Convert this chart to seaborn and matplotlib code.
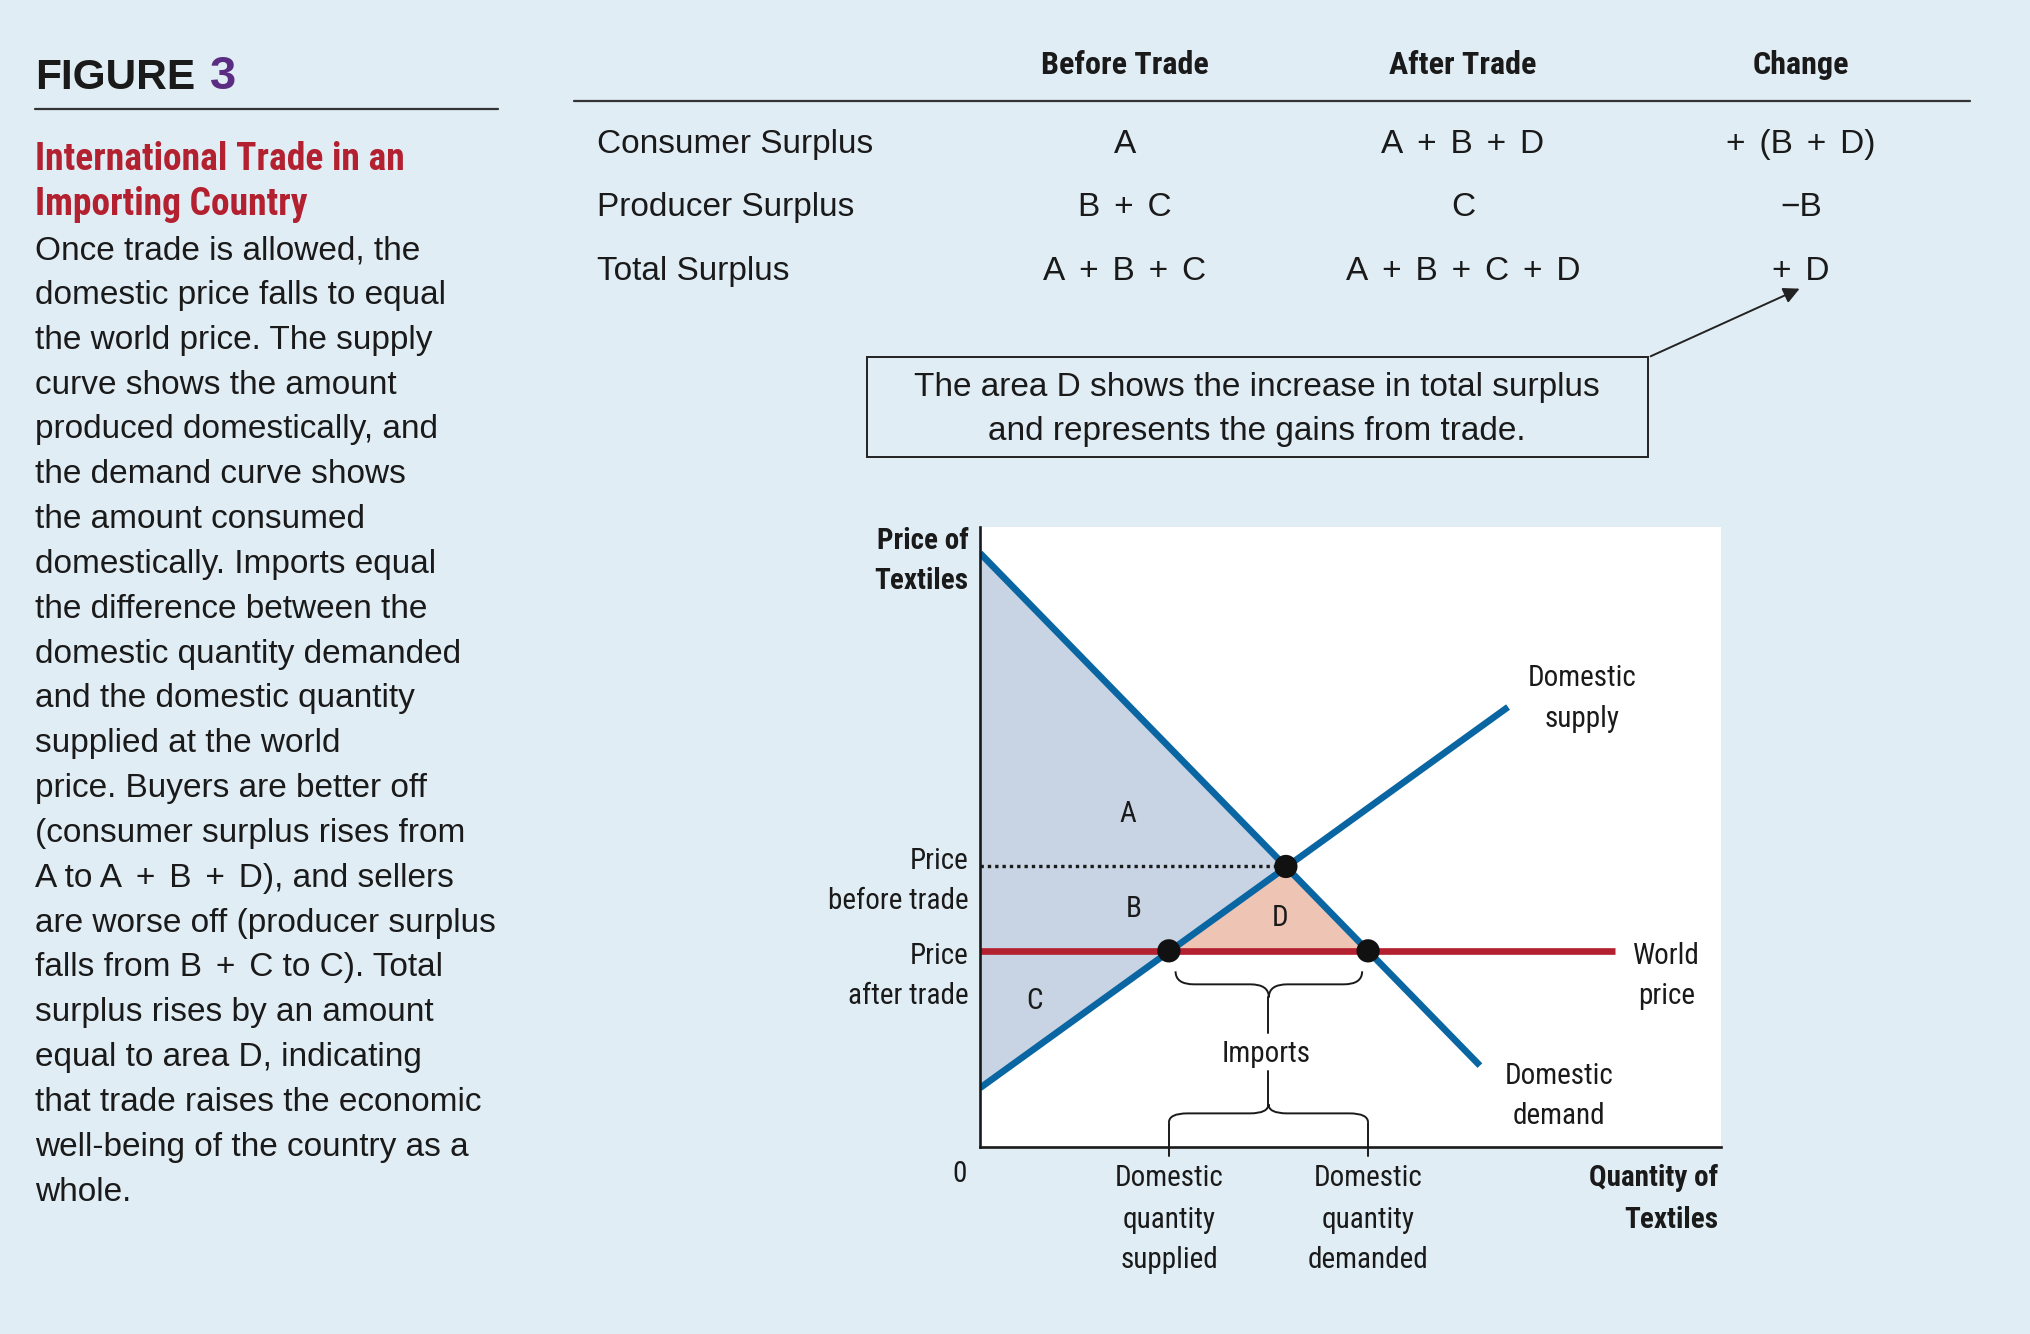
import matplotlib.pyplot as plt
import seaborn as sns
from matplotlib import font_manager
from matplotlib.path import Path
from matplotlib.patches import PathPatch, Rectangle, FancyArrowPatch
from matplotlib.lines import Line2D

# -----------------------------
# Data
# -----------------------------
demand_q = [0.0, 6.75]
demand_p = [9.58, 1.32]
supply_q = [0.0, 7.13]
supply_p = [0.96, 7.10]
world_q = [0.0, 8.57]
world_price = 3.17
price_before = 4.53
q_before = 4.13
q_supplied = 2.55
q_demanded = 5.24

table_cols = ["Before Trade", "After Trade", "Change"]
table_rows = ["Consumer Surplus", "Producer Surplus", "Total Surplus"]
before_vals = ["A", "B + C", "A + B + C"]
after_vals = ["A + B + D", "C", "A + B + C + D"]
change_vals = ["+ (B + D)", "\u2212B", "+ D"]

body_lines = [
    "Once trade is allowed, the",
    "domestic price falls to equal",
    "the world price. The supply",
    "curve shows the amount",
    "produced domestically, and",
    "the demand curve shows",
    "the amount consumed",
    "domestically. Imports equal",
    "the difference between the",
    "domestic quantity demanded",
    "and the domestic quantity",
    "supplied at the world",
    "price. Buyers are better off",
    "(consumer surplus rises from",
    "A to A + B + D), and sellers",
    "are worse off (producer surplus",
    "falls from B + C to C). Total",
    "surplus rises by an amount",
    "equal to area D, indicating",
    "that trade raises the economic",
    "well-being of the country as a",
    "whole.",
]

# -----------------------------
# Style
# -----------------------------
BG = "#E1EDF4"
BLUE = "#0A66A2"
RED = "#B3202F"
SHADE = "#C8D4E3"
SALMON = "#EEC5B5"
INK = "#1A1A1A"

sns.set_theme(style="white")
names = {f.name for f in font_manager.fontManager.ttflist}
REG = "Liberation Sans"
NARROW = next((n for n in ["Liberation Sans Narrow", "Roboto Condensed",
                           "Open Sans Condensed"] if n in names), REG)
plt.rcParams["font.family"] = [REG, "DejaVu Sans"]
plt.rcParams["text.color"] = INK

# the printed plus signs sit between slightly wider spaces
SP = "\u2004\u200a"


def wide_plus(s):
    return s.replace(" + ", f"{SP}+{SP}").replace("+ ", f"+{SP}")


fig = plt.figure(figsize=(20.3, 13.34), dpi=100, facecolor=BG)

W, H = 1568, 1030


def ftext(x, y, s, **kw):
    kw.setdefault("va", "baseline")
    return fig.text(x / W, 1 - y / H, s, **kw)


def flines(x, ys, lines, **kw):
    for y, s in zip(ys, lines):
        ftext(x, y, s, **kw)


# -----------------------------
# Left panel
# -----------------------------
ftext(27, 69, "FIGURE", fontsize=30.5, fontweight="bold", color=INK)
ftext(162, 69, "3", fontsize=34, fontweight="bold", color="#5A2D82")
fig.add_artist(Line2D([27 / W, 385 / W], [1 - 84.5 / H] * 2, color="#333333", lw=1.6))

ftext(27, 131, "International Trade in an", family=NARROW, fontsize=27,
      fontweight="bold", color=RED)
ftext(27, 166, "Importing Country", family=NARROW, fontsize=27,
      fontweight="bold", color=RED)

for i, line in enumerate(body_lines):
    ftext(27, 200 + 34.62 * i, wide_plus(line), fontsize=24)

# -----------------------------
# Table
# -----------------------------
col_x = [869, 1130, 1391]
for x, c in zip(col_x, table_cols):
    ftext(x, 57, c, family=NARROW, fontsize=23, fontweight="bold", ha="center")
fig.add_artist(Line2D([443 / W, 1522 / W], [1 - 78 / H] * 2, color="#333333", lw=1.6))

row_y = [118, 167, 216]
for y, label, b, a, c in zip(row_y, table_rows, before_vals, after_vals, change_vals):
    ftext(461, y, label, fontsize=24)
    ftext(col_x[0], y, wide_plus(b), fontsize=24, ha="center")
    ftext(col_x[1], y, wide_plus(a), fontsize=24, ha="center")
    ftext(col_x[2], y, wide_plus(c), fontsize=24, ha="center")

# annotation box + arrow
fig.add_artist(Rectangle((670 / W, 1 - 353 / H), (1273 - 670) / W, (353 - 276) / H,
                         transform=fig.transFigure, fill=False, ec="#222222", lw=1.4))
ftext(971, 306, "The area D shows the increase in total surplus", fontsize=24, ha="center")
ftext(971, 340, "and represents the gains from trade.", fontsize=24, ha="center")
fig.add_artist(FancyArrowPatch((1273 / W, 1 - 276 / H), (1392 / W, 1 - 222 / H),
                               transform=fig.transFigure, arrowstyle="-|>",
                               mutation_scale=24, lw=1.4, color="#222222"))

# -----------------------------
# Supply / demand chart
# -----------------------------
ax = fig.add_axes([757 / W, 1 - 886 / H, (1329 - 757) / W, (886 - 407) / H])
ax.set_facecolor("white")
ax.set_xlim(0, 10)
ax.set_ylim(0, 10)

ax.fill([0, q_before, 0], [demand_p[0], price_before, supply_p[0]], color=SHADE, lw=0)
ax.fill([q_supplied, q_before, q_demanded], [world_price, price_before, world_price],
        color=SALMON, lw=0)

ax.plot([0, q_before], [price_before, price_before], color=INK, lw=2.4,
        ls=(0, (1, 1.2)))

sns.lineplot(x=world_q, y=[world_price] * len(world_q), ax=ax, color=RED,
             linewidth=4.8, solid_capstyle="butt")
sns.lineplot(x=supply_q, y=supply_p, ax=ax, color=BLUE, linewidth=4.8,
             solid_capstyle="butt")
sns.lineplot(x=demand_q, y=demand_p, ax=ax, color=BLUE, linewidth=4.8,
             solid_capstyle="butt")
sns.scatterplot(x=[q_supplied, q_before, q_demanded],
                y=[world_price, price_before, world_price],
                ax=ax, color="#111111", s=280, edgecolor="none", zorder=6)


def brace(x0, x1, y0, d, r):
    xm = (x0 + x1) / 2
    ym = y0 + d / 2
    verts = [(x0, y0), (x0, ym), (x0 + r, ym), (xm - r, ym), (xm, ym), (xm, y0 + d),
             (xm, ym), (xm + r, ym), (x1 - r, ym), (x1, ym), (x1, y0)]
    codes = [Path.MOVETO, Path.CURVE3, Path.CURVE3, Path.LINETO, Path.CURVE3, Path.CURVE3,
             Path.CURVE3, Path.CURVE3, Path.LINETO, Path.CURVE3, Path.CURVE3]
    ax.add_patch(PathPatch(Path(verts, codes), fill=False, ec=INK, lw=1.4,
                           clip_on=False, zorder=4))


xm = (q_supplied + q_demanded) / 2
brace(q_supplied + 0.09, q_demanded - 0.08, 2.84, -0.42, 0.25)
ax.plot([xm, xm], [2.42, 1.84], color=INK, lw=1.4)
ax.plot([xm, xm], [1.24, 0.70], color=INK, lw=1.4)
brace(q_supplied, q_demanded, 0.40, 0.30, 0.25)
for q in [q_supplied, q_demanded]:
    ax.plot([q, q], [0.40, -0.13], color=INK, lw=1.4, clip_on=False)

for side in ["top", "right"]:
    ax.spines[side].set_visible(False)
for side in ["left", "bottom"]:
    ax.spines[side].set_color(INK)
    ax.spines[side].set_linewidth(1.9)
ax.set_xticks([])
ax.set_yticks([])
ax.set_xlabel("")
ax.set_ylabel("")

# chart labels
nk = dict(family=NARROW, fontsize=21)
flines(748, [424, 455], ["Price of", "Textiles"], ha="right", fontweight="bold", **nk)
ftext(741, 913, "0", ha="center", **nk)
flines(748, [671, 702], ["Price", "before trade"], ha="right", **nk)
flines(748, [744, 775], ["Price", "after trade"], ha="right", **nk)
ftext(871, 635, "A", ha="center", **nk)
ftext(876, 708, "B", ha="center", **nk)
ftext(799, 779, "C", ha="center", **nk)
ftext(989, 715, "D", ha="center", **nk)
flines(1222, [530, 561], ["Domestic", "supply"], ha="center", **nk)
flines(1287, [744, 775], ["World", "price"], ha="center", **nk)
flines(1204, [837, 868], ["Domestic", "demand"], ha="center", **nk)
ftext(978, 820, "Imports", ha="center", **nk)
flines(903, [916, 948, 979], ["Domestic", "quantity", "supplied"], ha="center", **nk)
flines(1057, [916, 948, 979], ["Domestic", "quantity", "demanded"], ha="center", **nk)
flines(1327, [916, 948], ["Quantity of", "Textiles"], ha="right", fontweight="bold", **nk)

fig.savefig("out.png", dpi=100, facecolor=BG)
